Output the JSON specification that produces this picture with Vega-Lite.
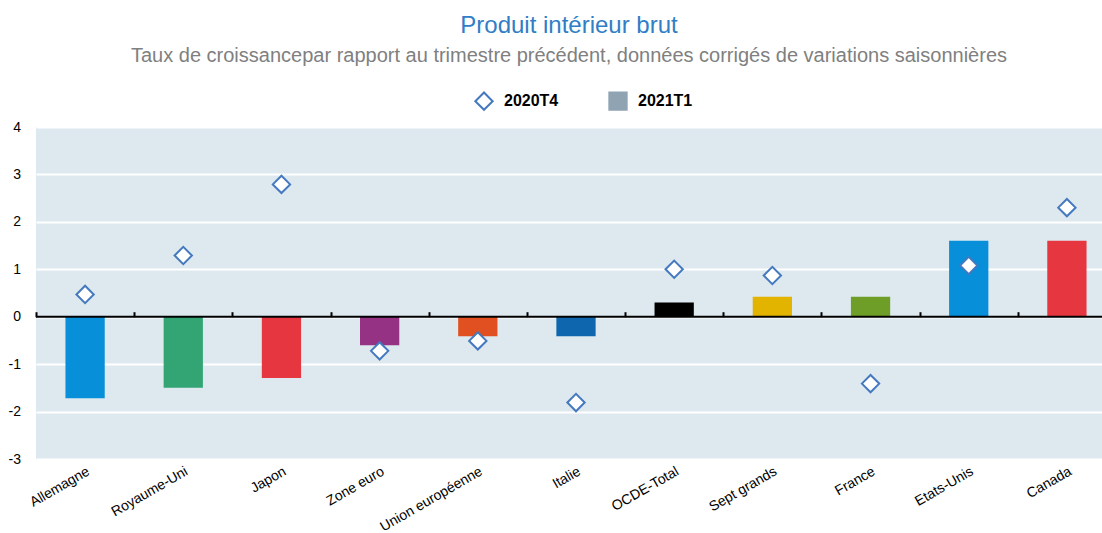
{
  "$schema": "https://vega.github.io/schema/vega-lite/v6.json",
  "width": 1066,
  "height": 332,
  "padding": {"left": 8, "top": 14, "right": 0, "bottom": 0},
  "background": "white",
  "title": {
    "text": "Produit intérieur brut",
    "subtitle": "Taux de croissancepar rapport au trimestre précédent, données corrigés de variations saisonnières",
    "anchor": "middle",
    "font": "Liberation Sans",
    "fontSize": 24,
    "fontWeight": "normal",
    "color": "#2f7ec6",
    "subtitleFont": "Liberation Sans",
    "subtitleFontSize": 20,
    "subtitleColor": "#808080",
    "subtitlePadding": 8,
    "offset": 25
  },
  "data": {
    "values": [
      {"pays": "Allemagne", "2020T4": 0.47, "2021T1": -1.72},
      {"pays": "Royaume-Uni", "2020T4": 1.29, "2021T1": -1.5},
      {"pays": "Japon", "2020T4": 2.79, "2021T1": -1.29},
      {"pays": "Zone euro", "2020T4": -0.72, "2021T1": -0.6},
      {"pays": "Union européenne", "2020T4": -0.51, "2021T1": -0.41},
      {"pays": "Italie", "2020T4": -1.81, "2021T1": -0.41},
      {"pays": "OCDE-Total", "2020T4": 1.0, "2021T1": 0.3},
      {"pays": "Sept grands", "2020T4": 0.87, "2021T1": 0.42},
      {"pays": "France", "2020T4": -1.41, "2021T1": 0.42},
      {"pays": "Etats-Unis", "2020T4": 1.08, "2021T1": 1.6},
      {"pays": "Canada", "2020T4": 2.3, "2021T1": 1.6}
    ]
  },
  "transform": [{"fold": ["2020T4", "2021T1"], "as": ["serie", "valeur"]}],
  "layer": [
    {
      "transform": [{"filter": "datum.serie === '2021T1'"}],
      "mark": {"type": "bar"},
      "encoding": {
        "x": {
          "field": "pays", "type": "nominal", "sort": null,
          "scale": {"range": [0, 1080], "paddingInner": 0.6, "paddingOuter": 0.3},
          "axis": {
            "title": null, "orient": "bottom", "domain": false, "ticks": false, "grid": false,
            "labelAngle": -30, "labelAlign": "right", "labelBaseline": "top", "labelPadding": 5,
            "labelFont": "Liberation Sans", "labelFontSize": 14, "labelColor": "black"
          }
        },
        "y": {
          "field": "valeur", "type": "quantitative",
          "scale": {"domain": [-3, 4], "nice": false},
          "axis": {
            "values": [-3, -2, -1, 0, 1, 2, 3, 4], "title": null, "domain": false, "ticks": false,
            "labelExpr": "replace(datum.label, '−', '-')",
            "labelPadding": 15.5, "labelFont": "Liberation Sans", "labelFontSize": 14, "labelColor": "black",
            "grid": true, "gridColor": "white", "gridWidth": 2
          }
        },
        "color": {
          "field": "pays", "type": "nominal",
          "scale": {
            "domain": ["Allemagne", "Royaume-Uni", "Japon", "Zone euro", "Union européenne", "Italie", "OCDE-Total", "Sept grands", "France", "Etats-Unis", "Canada"],
            "range": ["#078fd9", "#33a575", "#e63740", "#963283", "#e05020", "#0e67ae", "#000000", "#e2b400", "#6e9e28", "#078fd9", "#e63740"]
          },
          "legend": null
        }
      }
    },
    {
      "transform": [{"filter": "datum.serie === '2021T1'"}, {"filter": "datum.pays === 'Allemagne'"}],
      "mark": {"type": "rule", "color": "black", "strokeWidth": 2},
      "encoding": {"y": {"datum": 0}}
    },
    {
      "transform": [{"filter": "datum.serie === '2020T4'"}],
      "mark": {"type": "point", "filled": true, "strokeWidth": 2, "size": 300, "opacity": 1},
      "encoding": {
        "x": {
          "field": "pays", "type": "nominal", "sort": null,
          "axis": {
            "title": null, "orient": "top", "offset": -189.7, "labels": false, "domain": false,
            "ticks": true, "tickSize": 5, "tickWidth": 2, "tickColor": "black",
            "bandPosition": 0, "tickOffset": -29.45, "grid": false
          }
        },
        "y": {"field": "valeur", "type": "quantitative"},
        "shape": {
          "field": "serie", "type": "nominal",
          "scale": {"domain": ["2020T4", "2021T1"], "range": ["diamond", "square"]},
          "legend": {
            "orient": "none", "legendX": 438, "legendY": -36, "direction": "horizontal",
            "title": null, "padding": 0,
            "labelFont": "Liberation Sans", "labelFontSize": 16, "labelFontWeight": "bold", "labelColor": "black",
            "symbolSize": 300, "symbolStrokeWidth": 2, "columnPadding": 46, "labelOffset": 10
          }
        },
        "fill": {
          "field": "serie", "type": "nominal",
          "scale": {"domain": ["2020T4", "2021T1"], "range": ["white", "#8fa3b3"]},
          "legend": {
            "orient": "none", "legendX": 438, "legendY": -36, "direction": "horizontal",
            "title": null, "padding": 0,
            "labelFont": "Liberation Sans", "labelFontSize": 16, "labelFontWeight": "bold", "labelColor": "black",
            "symbolSize": 300, "symbolStrokeWidth": 2, "columnPadding": 46, "labelOffset": 10
          }
        },
        "stroke": {
          "field": "serie", "type": "nominal",
          "scale": {"domain": ["2020T4", "2021T1"], "range": ["#4479bf", "#8fa3b3"]},
          "legend": {
            "orient": "none", "legendX": 438, "legendY": -36, "direction": "horizontal",
            "title": null, "padding": 0,
            "labelFont": "Liberation Sans", "labelFontSize": 16, "labelFontWeight": "bold", "labelColor": "black",
            "symbolSize": 300, "symbolStrokeWidth": 2, "columnPadding": 46, "labelOffset": 10
          }
        }
      }
    }
  ],
  "resolve": {"axis": {"x": "independent"}},
  "config": {
    "view": {"fill": "#dde8ef", "stroke": null}
  }
}
